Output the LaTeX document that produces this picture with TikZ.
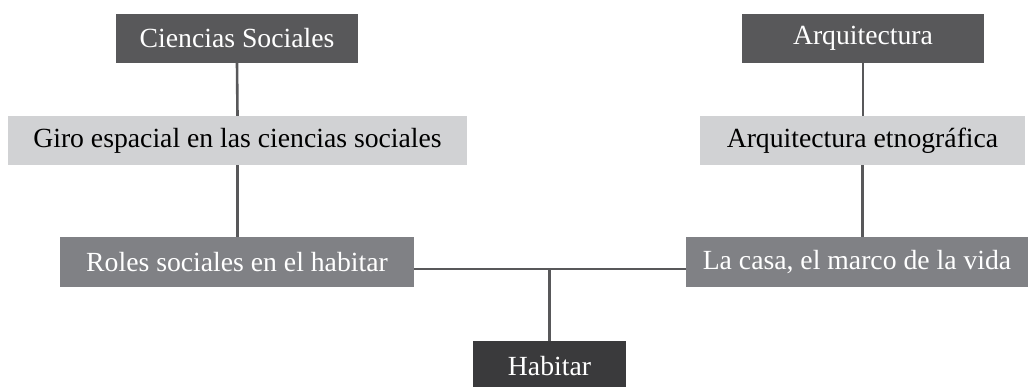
\documentclass[tikz,border=0pt]{standalone}
\usepackage{fontspec}
\setmainfont{Liberation Serif}
\definecolor{darkbox}{RGB}{88,88,90}
\definecolor{darkerbox}{RGB}{58,58,60}
\definecolor{midbox}{RGB}{128,129,133}
\definecolor{lightbox}{RGB}{209,210,212}
\definecolor{linegray}{RGB}{88,88,90}
\begin{document}
\begin{tikzpicture}[x=1pt,y=1pt,
		every node/.style={inner sep=0pt,font=\fontsize{27.7}{33}\selectfont},
		topbox/.style={fill=darkbox,text=white,minimum height=49pt},
		subbox/.style={fill=lightbox,text=black,minimum height=49pt},
		themebox/.style={fill=midbox,text=white,minimum height=50pt},
		rootbox/.style={fill=darkerbox,text=white,minimum height=51pt},
		link/.style={draw=linegray,line width=2.6pt}]
		\useasboundingbox (0,0) rectangle (1028,-386);
		% left branch
		\node [topbox,minimum width=242pt] (ciencias) at (237,-38.5) {Ciencias Sociales};
		\node [subbox,minimum width=459pt] (giro) at (237.5,-140.5) {Giro espacial en las ciencias sociales};
		\node [themebox,minimum width=354pt] (roles) at (237,-262) {Roles sociales en el habitar};
		% right branch
		\node [topbox,minimum width=242pt] (arqui) at (863,-38.5) {Arquitectura};
		\node [subbox,minimum width=325pt] (etno) at (862.5,-140.5) {Arquitectura etnográfica};
		\node [themebox,minimum width=342pt] (casa) at (857,-262) {La casa, el marco de la vida};
		% root
		\node [rootbox,minimum width=153pt] (habitar) at (549.5,-366.5) {Habitar};
		\draw [link] (ciencias.south) -- (giro.south |- giro.north);
		\draw [link] (giro.south) -- (giro.south |- roles.north);
		\draw [link] (arqui.south) -- (arqui.south |- etno.north);
		\draw [link] (etno.south) -- (etno.south |- casa.north);
		\draw [link] ([yshift=-7pt]roles.east) -- ([yshift=-7pt]casa.west);
		\coordinate (junc) at ([yshift=-7pt]habitar.north |- roles.east);
		\draw [link] (junc) -- (habitar.north);
\end{tikzpicture}
\end{document}
